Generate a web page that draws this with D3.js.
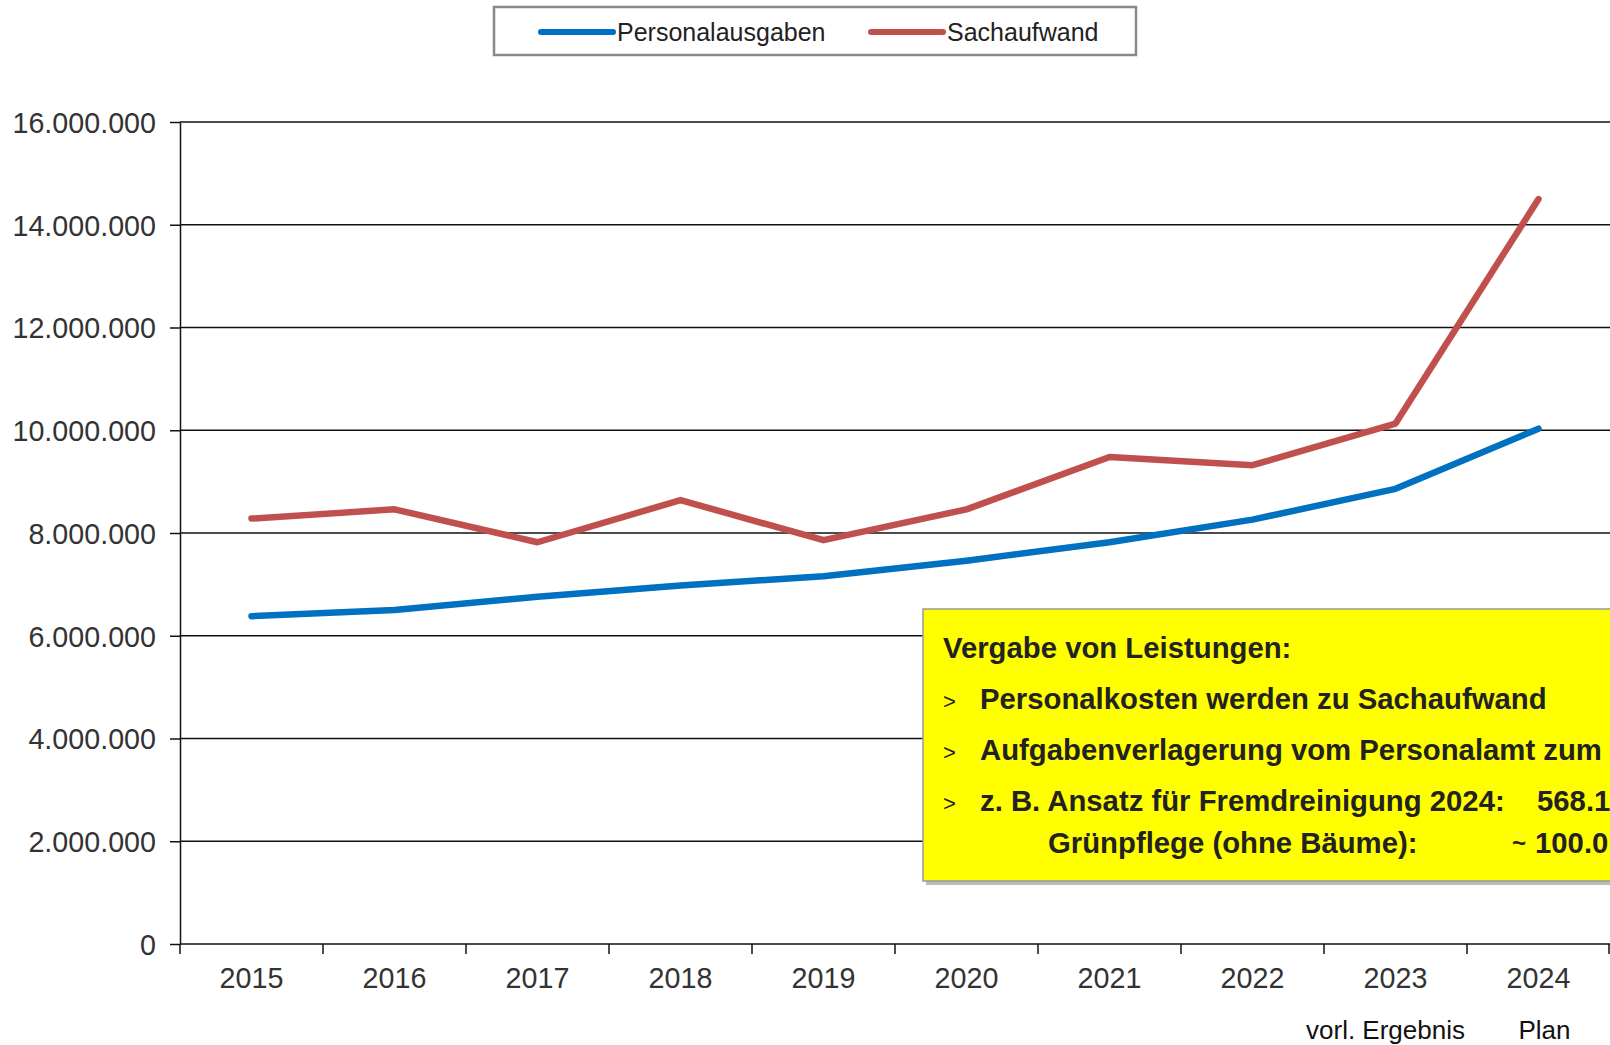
<!DOCTYPE html>
<html>
<head>
<meta charset="utf-8">
<script src="https://cdn.jsdelivr.net/npm/d3@7"></script>
<style>
  body { margin: 0; background: #fff; overflow: hidden; }
  svg text { font-family: Arial, "Liberation Sans", sans-serif; }
</style>
</head>
<body>
<svg id="chart" width="1610" height="1045"></svg>
<script>
var years = ["2015","2016","2017","2018","2019","2020","2021","2022","2023","2024"];
var personal = [6380000, 6500000, 6760000, 6980000, 7160000, 7460000, 7820000, 8260000, 8860000, 10030000];
var sach = [8280000, 8460000, 7820000, 8640000, 7860000, 8460000, 9480000, 9320000, 10130000, 14500000];
var yTicks = [0, 2000000, 4000000, 6000000, 8000000, 10000000, 12000000, 14000000, 16000000];
var seriesNames = ["Personalausgaben", "Sachaufwand"];
var noteLines = ["Personalkosten werden zu Sachaufwand", "Aufgabenverlagerung vom Personalamt zum", "z. B. Ansatz für Fremdreinigung 2024:"];

(function () {
  var svg = d3.select("svg#chart"),
      left = 180, right = 1610, top = 122, bottom = 944;
  var colors = ["#0070C0", "#C0504D"];
  var de = d3.formatLocale({decimal: ",", thousands: ".", grouping: [3], currency: ["", " €"]});

  var x = d3.scaleBand().domain(years).range([left, right]);
  var y = d3.scaleLinear().domain([0, 16000000]).range([bottom, top]);
  var cx = d => x(d) + x.bandwidth() / 2;

  // gridlines
  svg.append("g").selectAll("line").data(yTicks.slice(1)).join("line")
     .attr("x1", left).attr("x2", right)
     .attr("y1", d => y(d)).attr("y2", d => y(d))
     .attr("stroke", "#111").attr("stroke-width", 1.5);

  // y axis
  var gy = svg.append("g").attr("transform", "translate(" + left + ",0)")
     .call(d3.axisLeft(y).tickValues(yTicks).tickFormat(de.format(",")).tickSize(10).tickSizeOuter(0));
  gy.select(".domain").attr("stroke", "#111").attr("stroke-width", 1.5);
  gy.selectAll(".tick line").attr("stroke", "#111").attr("stroke-width", 1.5);
  gy.selectAll("text").attr("x", -24).attr("dy", "0.36em")
     .style("font-size", "28.7px").attr("fill", "#333");

  // x axis
  var gx = svg.append("g").attr("transform", "translate(0," + bottom + ")");
  gx.append("line").attr("x1", left).attr("x2", right)
     .attr("stroke", "#111").attr("stroke-width", 1.5);
  gx.selectAll("line.tk").data(years.concat(["end"])).join("line").attr("class", "tk")
     .attr("x1", d => d === "end" ? right - 1 : x(d)).attr("x2", d => d === "end" ? right - 1 : x(d))
     .attr("y1", 0).attr("y2", 10)
     .attr("stroke", "#111").attr("stroke-width", 1.5);
  gx.selectAll("text").data(years).join("text")
     .attr("x", cx).attr("y", 44).attr("text-anchor", "middle")
     .style("font-size", "28.7px").attr("fill", "#333").text(d => d);

  svg.append("text").attr("x", cx("2023") - 10).attr("y", 1039).attr("text-anchor", "middle")
     .style("font-size", "26px").attr("fill", "#111").text("vorl. Ergebnis");
  svg.append("text").attr("x", cx("2024") + 6).attr("y", 1039).attr("text-anchor", "middle")
     .style("font-size", "26px").attr("fill", "#111").text("Plan");

  // lines
  var line = d3.line().x((d, i) => cx(years[i])).y(d => y(d));
  [personal, sach].forEach(function (s, k) {
    svg.append("path").attr("d", line(s)).attr("fill", "none")
       .attr("stroke", colors[k]).attr("stroke-width", 6.5)
       .attr("stroke-linejoin", "round").attr("stroke-linecap", "round");
  });

  // legend
  var lg = svg.append("g");
  lg.append("rect").attr("x", 494).attr("y", 7).attr("width", 642).attr("height", 48)
     .attr("fill", "#fff").attr("stroke", "#888").attr("stroke-width", 2.5);
  var lx = [541, 871];
  seriesNames.forEach(function (n, k) {
    lg.append("line").attr("x1", lx[k]).attr("x2", lx[k] + 72).attr("y1", 32).attr("y2", 32)
       .attr("stroke", colors[k]).attr("stroke-width", 6).attr("stroke-linecap", "round");
    lg.append("text").attr("x", lx[k] + 76).attr("y", 41)
       .style("font-size", "25px").attr("fill", "#222").text(n);
  });

  // note box
  var nb = svg.append("g");
  nb.append("rect").attr("x", 926).attr("y", 613).attr("width", 700).attr("height", 272).attr("fill", "#bbb");
  nb.append("rect").attr("x", 923).attr("y", 609).attr("width", 700).attr("height", 272)
     .attr("fill", "#FFFF00").attr("stroke", "#999").attr("stroke-width", 1.5);
  var bold = t => t.style("font-size", "29.3px").style("font-weight", "bold").attr("fill", "#222");
  bold(nb.append("text").attr("x", 943).attr("y", 658).text("Vergabe von Leistungen:"));
  noteLines.forEach(function (t, i) {
    var by = 709 + i * 51;
    nb.append("text").attr("x", 943).attr("y", by).style("font-size", "22px").attr("fill", "#222").text(">");
    bold(nb.append("text").attr("x", 980).attr("y", by).text(t));
  });
  bold(nb.append("text").attr("x", 1537).attr("y", 811).text("568.1"));
  bold(nb.append("text").attr("x", 1048).attr("y", 853).text("Grünpflege (ohne Bäume):"));
  nb.append("text").attr("x", 1512).attr("y", 851).style("font-size", "24px")
     .style("font-weight", "bold").attr("fill", "#222").text("~");
  bold(nb.append("text").attr("x", 1535).attr("y", 853).text("100.0"));
})();
</script>
</body>
</html>
